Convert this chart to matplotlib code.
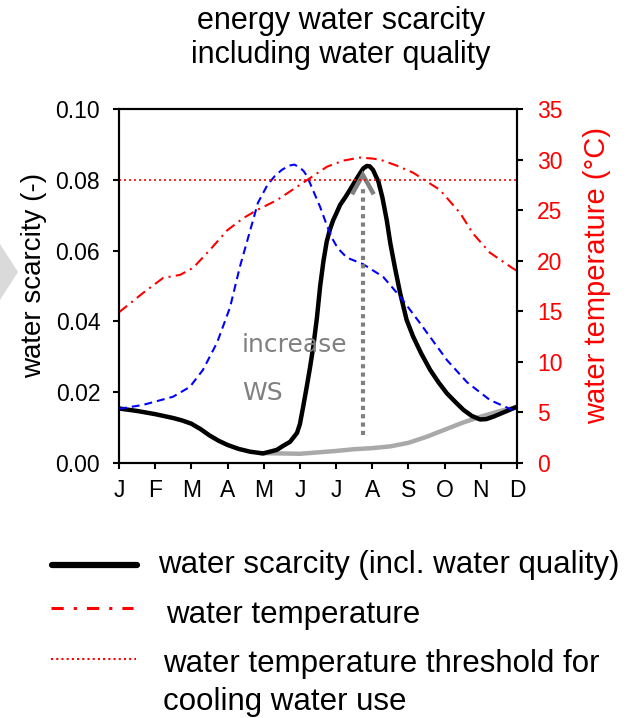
import matplotlib
matplotlib.use("Agg")
import matplotlib.pyplot as plt
from matplotlib.patches import Polygon
from matplotlib.ticker import FormatStrFormatter

plt.rcParams['font.family'] = ['Liberation Sans', 'DejaVu Sans']

# month axis: 0 = January ... 11 = December
months = ["J", "F", "M", "A", "M", "J", "J", "A", "S", "O", "N", "D"]

# water scarcity including water quality (-)
ws_month = [0.0, 0.5, 1.0, 1.5, 1.75, 2.0, 2.25, 2.5, 2.75, 3.0, 3.3, 3.62, 3.98, 4.36,
            4.53, 4.73, 4.92, 5.0, 5.09, 5.19, 5.28, 5.37, 5.47, 5.56, 5.65, 5.74, 5.83,
            5.92, 6.02, 6.11, 6.25, 6.38, 6.55, 6.66, 6.75, 6.85, 6.93, 7.02, 7.1, 7.17,
            7.28, 7.4, 7.5, 7.63, 7.77, 7.95, 8.13, 8.35, 8.6, 8.83, 9.06, 9.3, 9.52,
            9.75, 9.98, 10.15, 10.35, 10.7, 11.0]
ws_value = [0.0154, 0.0147, 0.0138, 0.0127, 0.0120, 0.0111, 0.0096, 0.0078, 0.0063,
            0.0051, 0.0040, 0.0032, 0.0027, 0.0037, 0.0048, 0.0060, 0.0085, 0.0110,
            0.0159, 0.0216, 0.0270, 0.0329, 0.0410, 0.0500, 0.0570, 0.0625, 0.0660,
            0.0686, 0.0708, 0.0729, 0.0750, 0.0771, 0.0800, 0.0818, 0.0832, 0.0839,
            0.0838, 0.0828, 0.0810, 0.0795, 0.0750, 0.0686, 0.0620, 0.0550, 0.0480,
            0.0404, 0.0357, 0.0310, 0.0263, 0.0228, 0.0197, 0.0172, 0.0150, 0.0133,
            0.0123, 0.0124, 0.0131, 0.0146, 0.0159]

# water scarcity without water quality (-)
base_month = [3.9, 4.5, 5.0, 5.5, 6.0, 6.5, 7.0, 7.5, 8.0, 8.5, 9.0, 9.5, 10.0, 10.5, 11.0]
base_value = [0.0028, 0.0027, 0.0026, 0.0030, 0.0034, 0.0039, 0.0042, 0.0047, 0.0057,
              0.0074, 0.0094, 0.0114, 0.0131, 0.0146, 0.0158]

# seasonal reference curve (blue, dashed)
blue_month = [0.0, 0.66, 1.49, 1.96, 2.32, 2.71, 3.07, 3.34, 3.62, 3.84, 4.1, 4.3, 4.5,
              4.7, 4.85, 5.0, 5.1, 5.2, 5.36, 5.56, 5.75, 5.89, 6.0, 6.11, 6.3, 6.74,
              7.3, 7.77, 8.32, 9.07, 9.62, 10.25, 11.0]
blue_value = [0.0153, 0.0164, 0.0187, 0.0215, 0.0263, 0.0340, 0.0440, 0.0554, 0.0655,
              0.0735, 0.0785, 0.0810, 0.0828, 0.0840, 0.0843, 0.0834, 0.0825, 0.0810,
              0.0771, 0.0723, 0.0670, 0.0635, 0.0615, 0.0600, 0.0580, 0.0562, 0.0526,
              0.0470, 0.0395, 0.0290, 0.0228, 0.0178, 0.0144]

# water temperature (deg C)
temp_month = [0.0, 0.66, 1.22, 1.69, 2.05, 2.52, 2.99, 3.43, 3.81, 4.37, 5.0, 5.75, 6.2,
              6.66, 7.0, 7.21, 7.68, 8.13, 8.87, 9.43, 9.78, 10.25, 10.86, 11.0]
temp_value = [14.9, 16.8, 18.3, 18.6, 19.3, 21.1, 23.0, 24.2, 25.0, 26.0, 27.5, 29.3, 29.9,
              30.2, 30.1, 30.0, 29.4, 28.7, 27.0, 24.7, 22.7, 20.8, 19.3, 19.0]

# cooling water temperature threshold (deg C)
temp_threshold = 28.0

# "increase WS" arrow
arrow_month = 6.74
arrow_base = 0.0079
arrow_tip = 0.0814

W, H = 631, 718
fig = plt.figure(figsize=(W / 100, H / 100), dpi=100)

# background layer in pixel units (side marker and legend)
bg = fig.add_axes([0, 0, 1, 1], zorder=-1)
bg.set_xlim(0, W)
bg.set_ylim(H, 0)
bg.axis('off')
bg.add_patch(Polygon([(0, 244), (18, 272), (0, 300)], closed=True,
                     facecolor='#dadada', edgecolor='none'))

ax = fig.add_axes([119 / W, 1 - 463 / H, (517 - 119) / W, (463 - 109) / H])
ax2 = ax.twinx()

ax.plot(base_month, base_value, color='#a9a9a9', lw=3.2, solid_capstyle='round', zorder=2)
ax.plot(ws_month, ws_value, color='black', lw=3.2, solid_capstyle='round',
        solid_joinstyle='round', zorder=3)
ax.plot(blue_month, blue_value, color='#0000ff', lw=1.5, linestyle=(0, (3.8, 2.4)), zorder=4)

# arrow: dotted shaft with open chevron head
ax.plot([arrow_month, arrow_month], [arrow_base, arrow_tip - 0.0035], color='#808080',
        lw=3.0, linestyle=(0, (1, 1)), solid_capstyle='butt', zorder=5)
ax.plot([arrow_month - 0.3, arrow_month, arrow_month + 0.3],
        [arrow_tip - 0.0055, arrow_tip, arrow_tip - 0.0055], color='#808080', lw=3.2,
        solid_joinstyle='miter', solid_capstyle='butt', zorder=5)

ax.text(3.40, 0.0314, "increase", fontsize=18, color='#808080', family='DejaVu Sans',
        ha='left', va='baseline')
ax.text(3.40, 0.0178, "WS", fontsize=18, color='#808080', family='DejaVu Sans',
        ha='left', va='baseline')

ax2.plot(temp_month, temp_value, color='#ff0000', lw=1.5, linestyle=(0, (5, 2.5, 1, 2.5)))
ax2.axhline(temp_threshold, color='#ff0000', lw=1.2, linestyle=(0, (1.2, 1.8)))

ax.set_xlim(0, 11)
ax.set_ylim(0, 0.10)
ax2.set_ylim(0, 35)
ax.set_xticks(range(12))
ax.set_xticklabels(months)
ax.set_yticks([0.0, 0.02, 0.04, 0.06, 0.08, 0.10])
ax.yaxis.set_major_formatter(FormatStrFormatter('%.2f'))
ax2.set_yticks([0, 5, 10, 15, 20, 25, 30, 35])

for a in (ax, ax2):
    for s in a.spines.values():
        s.set_linewidth(1.5)
        s.set_color('black')
ax.tick_params(axis='both', direction='out', length=4.5, width=1.5, labelsize=16.5,
               colors='black')
ax.tick_params(axis='y', pad=9)
ax.tick_params(axis='x', pad=7)
ax2.tick_params(axis='y', direction='out', length=4.5, width=1.5, labelsize=16.5,
                pad=10, colors='black', labelcolor='#ff0000')

# titles and axis labels
fig.text(341 / W, 1 - 29 / H, "energy water scarcity", ha='center', va='baseline', fontsize=22)
fig.text(341 / W, 1 - 63 / H, "including water quality", ha='center', va='baseline', fontsize=22)
fig.text(34 / W, 1 - 275 / H, "water scarcity (-)", rotation=90, ha='center', va='center',
         fontsize=20)
fig.text(597 / W, 1 - 275 / H, "water temperature (\u00b0C)", rotation=90, ha='center',
         va='center', fontsize=21, color='#ff0000')

# legend
bg.plot([52, 137], [565, 565], color='black', lw=4.5, solid_capstyle='round')
bg.plot([51, 133], [608, 608], color='#ff0000', lw=2.2, linestyle=(0, (4, 3.3, 1, 3.3)))
bg.plot([51, 136], [659, 659], color='#ff0000', lw=1.5, linestyle=(0, (1, 1.5)))
bg.text(158, 573, "water scarcity (incl. water quality)", fontsize=22.5, va='baseline')
bg.text(166, 623, "water temperature", fontsize=22.5, va='baseline')
bg.text(163, 672, "water temperature threshold for", fontsize=22.5, va='baseline')
bg.text(163, 710, "cooling water use", fontsize=22.5, va='baseline')

fig.savefig("out.png", dpi=100)
